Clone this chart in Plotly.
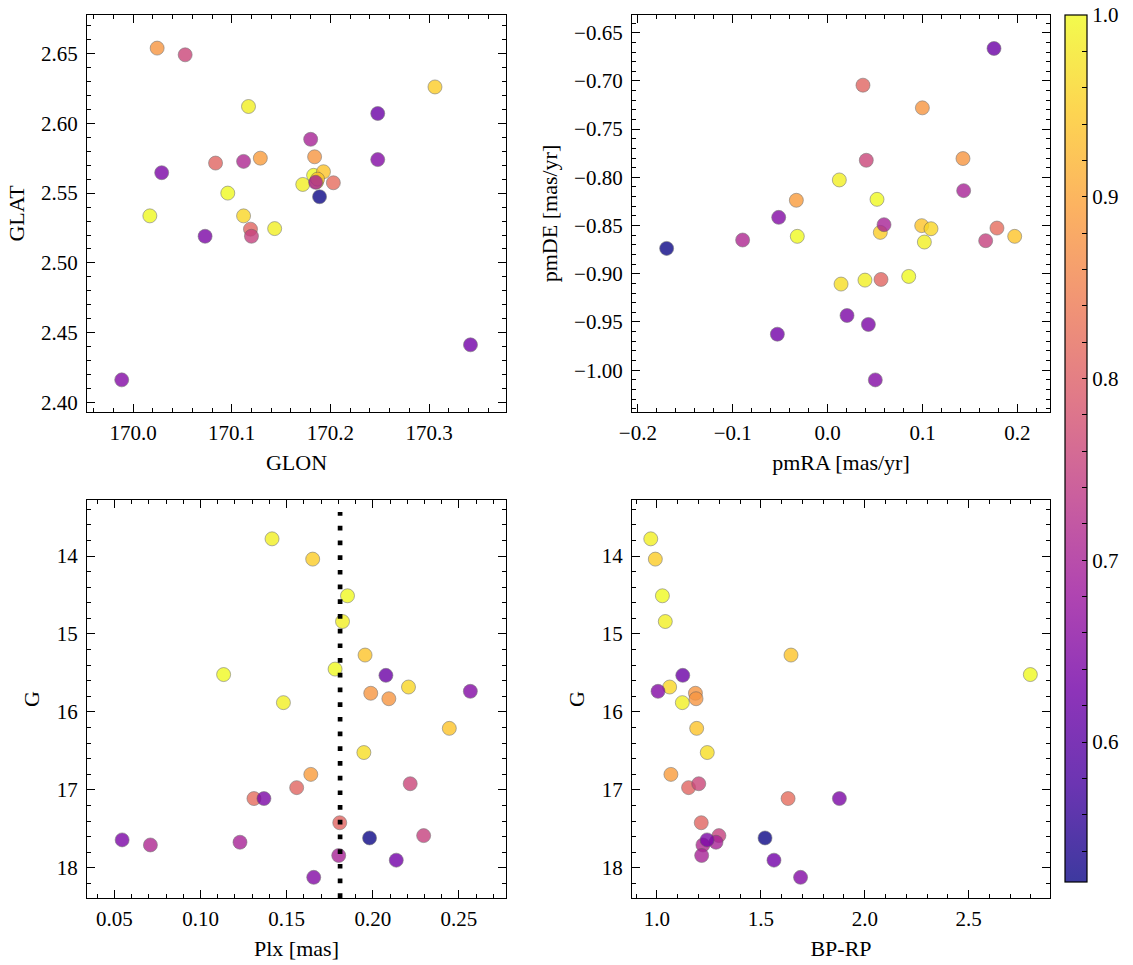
import plotly.graph_objects as go

# ---- data (one entry per star) ----
glon = [170.117, 170.183, 170.172, 170.096, 170.017, 170.1435, 170.186,
        170.306, 170.193, 170.112, 170.187,
        170.0244, 170.184, 170.129,
        170.0836, 170.203, 170.119,
        170.0528, 170.120,
        170.180, 170.112, 170.185,
        170.248, 170.248, 170.029, 170.073, 170.342, 169.9885,
        170.189]
glat = [2.612, 2.5627, 2.5562, 2.550, 2.5337, 2.5246, 2.558,
        2.626, 2.5653, 2.5337, 2.560,
        2.6538, 2.576, 2.575,
        2.5715, 2.5574, 2.5242,
        2.649, 2.5191,
        2.5885, 2.5727, 2.5577,
        2.607, 2.574, 2.5646, 2.5191, 2.4414, 2.4163,
        2.5474]
pmra = [0.0123, 0.0520, 0.1019, -0.0320, 0.0854, 0.0393, 0.0141,
        0.0555, 0.0991, 0.1089, 0.1971,
        0.0998, 0.1426, -0.0330,
        0.0372, 0.1784, 0.0562,
        0.0407, 0.1665,
        0.0594, -0.0896, 0.1433,
        0.1753, -0.0516, 0.0204, 0.0429, -0.0530, 0.0502,
        -0.1697]
pmde = [-0.8027, -0.8228, -0.8671, -0.8612, -0.9028, -0.9066, -0.9107,
        -0.8571, -0.8501, -0.8533, -0.8612,
        -0.7279, -0.7805, -0.8238,
        -0.7044, -0.8526, -0.9059,
        -0.7823, -0.8657,
        -0.8491, -0.8650, -0.8138,
        -0.6663, -0.8415, -0.9433, -0.9526, -0.9627, -1.0101,
        -0.8737]
plx = [0.1415, 0.1853, 0.1824, 0.1781, 0.1134, 0.1481, 0.1948,
       0.1651, 0.1955, 0.2207, 0.2444,
       0.1988, 0.2093, 0.1640,
       0.1558, 0.1310, 0.1808,
       0.2217, 0.2295,
       0.1229, 0.0709, 0.1802,
       0.2076, 0.2566, 0.1368, 0.0545, 0.2136, 0.1657,
       0.1981]
gmag = [13.78, 14.51, 14.84, 15.45, 15.52, 15.88, 16.52,
        14.04, 15.27, 15.68, 16.21,
        15.76, 15.83, 16.80,
        16.97, 17.11, 17.42,
        16.92, 17.585,
        17.67, 17.705, 17.84,
        15.53, 15.735, 17.11, 17.64, 17.90, 18.12,
        17.615]
bprp = [0.970, 1.026, 1.040, None, 2.797, 1.122, 1.242,
        0.992, 1.645, 1.061, 1.191,
        1.185, 1.188, 1.067,
        1.152, 1.631, 1.213,
        1.201, 1.298,
        1.284, 1.221, 1.215,
        1.124, 1.005, 1.878, 1.241, 1.563, 1.691,
        1.520]
prob = [0.99, 1.00, 0.99, 1.00, 1.00, 0.99, 0.97,
        0.95, 0.94, 0.96, 0.94,
        0.88, 0.88, 0.89,
        0.81, 0.82, 0.81,
        0.76, 0.75,
        0.70, 0.71, 0.70,
        0.62, 0.65, 0.64, 0.64, 0.63, 0.65,
        0.523]
plx_cut = 0.181
cbar_ticks = [0.6, 0.7, 0.8, 0.9, 1.0]

W, H = 1133, 965
FONT = "Liberation Serif"
FS = 21
FT = 22
ALPHA = 0.8
PMIN, PMAX = 0.523, 1.0

plasma = ['#0d0887', '#46039f', '#7201a8', '#9c179e', '#bd3786',
          '#d8576b', '#ed7953', '#fb9f3a', '#fdca26', '#f0f921']


def blend(hx):
    r, g, b = int(hx[1:3], 16), int(hx[3:5], 16), int(hx[5:7], 16)
    f = lambda c: round(c * ALPHA + 255 * (1 - ALPHA))
    return "rgb(%d,%d,%d)" % (f(r), f(g), f(b))


plasma_faded = [[i / (len(plasma) - 1), blend(c)] for i, c in enumerate(plasma)]


def dx(a, b):
    return [a / W, b / W]


def dy(top, bottom):
    return [1 - bottom / H, 1 - top / H]


marker = dict(size=14, color=prob, colorscale="Plasma", cmin=PMIN, cmax=PMAX,
              showscale=False, opacity=ALPHA,
              line=dict(color="rgb(90,90,90)", width=0.6))

fig = go.Figure()
pairs = [(glon, glat), (pmra, pmde), (plx, gmag), (bprp, gmag)]
for i, (xv, yv) in enumerate(pairs, start=1):
    s = "" if i == 1 else str(i)
    fig.add_trace(go.Scatter(x=xv, y=yv, mode="markers", marker=marker,
                             xaxis="x" + s, yaxis="y" + s, showlegend=False,
                             hoverinfo="x+y"))

# colour bar (alpha-faded plasma, as in the reference)
minor_vals = [round(0.54 + 0.02 * k, 2) for k in range(24)]
fig.add_trace(go.Scatter(
    x=[None], y=[None], mode="markers", xaxis="x", yaxis="y", showlegend=False,
    marker=dict(color=[PMIN], colorscale=plasma_faded, cmin=PMIN, cmax=PMAX,
                showscale=True,
                colorbar=dict(
                    x=1065 / W, xanchor="left", xref="paper", xpad=0,
                    y=1 - 15 / H, yanchor="top", yref="paper", ypad=0,
                    len=867 / H, lenmode="fraction", thickness=22,
                    thicknessmode="pixels",
                    outlinewidth=1.2, outlinecolor="black",
                    tickvals=minor_vals,
                    ticktext=[("%.1f" % v) if any(abs(v - t) < 1e-6 for t in cbar_ticks) else ""
                              for v in minor_vals],
                    ticks="inside", ticklen=5, tickwidth=1, tickcolor="black",
                    tickfont=dict(family=FONT, size=FS, color="black"),
                ))))


def axis(domain, rng, dtick, mdtick, title, anchor, fmt, standoff, lstand):
    return dict(domain=domain, range=rng, dtick=dtick, tick0=0, tickformat=fmt,
                ticks="inside", ticklen=8, tickwidth=1.1, tickcolor="black",
                showline=True, linecolor="black", linewidth=1.3, mirror="allticks",
                showgrid=False, zeroline=False, anchor=anchor, automargin=False,
                ticklabelstandoff=lstand,
                minor=dict(ticks="inside", ticklen=4, tickwidth=1, tickcolor="black",
                           dtick=mdtick, tick0=0, showgrid=False),
                tickfont=dict(family=FONT, size=FS, color="black"),
                title=dict(text=title, font=dict(family=FONT, size=FT, color="black"),
                           standoff=standoff))


X1, X2 = dx(87, 506), dx(632, 1050)
Yt, Yb = dy(15, 412), dy(500, 898)

fig.update_layout(
    width=W, height=H, margin=dict(l=0, r=0, t=0, b=0, autoexpand=False),
    paper_bgcolor="white", plot_bgcolor="white",
    xaxis=axis(X1, [169.9533, 170.378], 0.1, 0.02, "GLON", "y", ".1f", 10, 2),
    yaxis=axis(Yt, [2.3933, 2.6775], 0.05, 0.01, "GLAT", "x", ".2f", 10, 4),
    xaxis2=axis(X2, [-0.2062, 0.2343], 0.1, 0.02, "pmRA [mas/yr]", "y2", ".1f", 10, 2),
    yaxis2=axis(Yt, [-1.0434, -0.6316], 0.05, 0.01, "pmDE [mas/yr]", "x2", ".2f", 10, 4),
    xaxis3=axis(X1, [0.0341, 0.2773], 0.05, 0.01, "Plx [mas]", "y3", ".2f", 10, 2),
    yaxis3=axis(Yb, [18.385, 13.282], 1, 0.2, "G", "x3", "d", 10, 4),
    xaxis4=axis(X2, [0.8797, 2.8916], 0.5, 0.1, "BP-RP", "y4", ".1f", 10, 2),
    yaxis4=axis(Yb, [18.385, 13.282], 1, 0.2, "G", "x4", "d", 10, 4),
    shapes=[dict(type="line", xref="x3", yref="y3 domain", x0=plx_cut, x1=plx_cut,
                 y0=0, y1=0.97, line=dict(color="black", width=4.7, dash="4.7px,10px"))],
)

fig.write_html("out.html", config={"displayModeBar": False},
               post_script="document.body.style.margin='0';document.body.style.padding='0';")
